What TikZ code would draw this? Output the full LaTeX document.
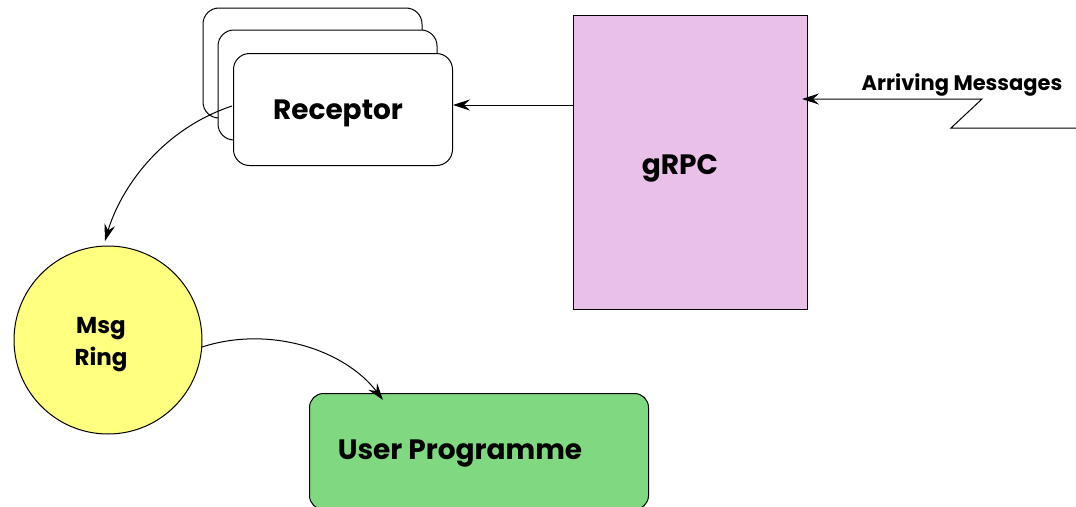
\documentclass[tikz,border=0pt]{standalone}
\usepackage{fontspec}
\setmainfont{Poppins}
\usetikzlibrary{arrows.meta}
\definecolor{grpcfill}{HTML}{E8C0E8}
\definecolor{ringfill}{HTML}{FFFF80}
\definecolor{userfill}{HTML}{80D880}
\begin{document}
\begin{tikzpicture}[x=1pt,y=-1pt,
  line width=1pt,
  tip/.style={-{Stealth[length=17pt,width=11pt,inset=6pt]}},
  recbox/.style={draw,rounded corners=16pt,fill=white},
  lbl/.style={font=\bfseries\fontsize{28}{32}\selectfont,inner sep=0pt}]
\useasboundingbox (0,0) rectangle (1076,506);
% receptor stack
\draw[recbox] (203,8) rectangle (422,118);
\draw[recbox] (218,30) rectangle (437,140);
\node[recbox,minimum width=219pt,minimum height=112pt,anchor=north west,inner sep=0pt] (rec) at (233,53) {};
\node[lbl] (rectxt) at (338,113) {Receptor};
% gRPC
\node[draw,fill=grpcfill,minimum width=234pt,minimum height=294pt,anchor=north west,inner sep=0pt] (grpc) at (573,15) {};
\node[lbl] (grpctxt) at (680,168) {gRPC};
% Msg ring
\node[draw,circle,fill=ringfill,minimum size=188pt,inner sep=0pt] (ring) at (108,340) {};
\node[lbl,font=\bfseries\fontsize{23}{32}\selectfont,align=center] (ringtxt) at (101,345) {Msg\\Ring};
% User Programme
\node[draw,fill=userfill,rounded corners=14pt,minimum width=339pt,minimum height=116pt,anchor=north west,inner sep=0pt] (user) at (309,393) {};
\node[lbl] (usertxt) at (460,454) {User Programme};
% arriving
\coordinate (a1) at (1076,128);
\coordinate (a2) at (951,128);
\coordinate (a3) at (982,99);
\coordinate (a4) at (802,99);
\draw[tip] (a1) -- (a2) -- (a3) -- (a4);
\node[lbl,font=\bfseries\fontsize{21}{24}\selectfont,anchor=base] (arrtxt) at (962,90) {Arriving Messages};
% connectors
\draw[tip] (grpc.west |- 0,105) -- (rec.east |- 0,105);
\draw[tip] (232,106) .. controls (160,130) and (120,190) .. (105,241);
\draw[tip] (202,347) .. controls (270,325) and (345,350) .. (383,400);
\end{tikzpicture}
\end{document}
